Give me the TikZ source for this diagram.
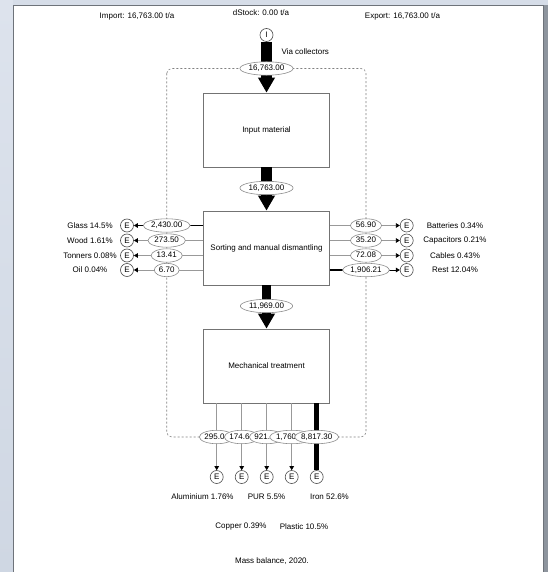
\documentclass[tikz,border=0pt]{standalone}
\usepackage{fontspec}
\setmainfont{Liberation Sans}
\usetikzlibrary{arrows.meta,shapes.geometric}
\definecolor{framea}{HTML}{DDE3ED}
\definecolor{frameb}{HTML}{B4BCC8}
\definecolor{framec}{HTML}{CFD7E3}
\definecolor{frametop}{HTML}{D6DDE8}
\definecolor{frameright}{HTML}{8E959E}
\definecolor{framedark}{HTML}{6E737A}
\begin{document}
\begin{tikzpicture}[x=1pt,y=-1pt,
  every node/.style={font=\fontsize{8}{9.6}\selectfont},
  procbox/.style={draw=black!55, line width=0.7pt, fill=white, minimum width=126pt, minimum height=74pt, inner sep=0pt},
  endc/.style={circle, draw=black!70, line width=0.6pt, fill=white, minimum size=13pt, inner sep=0pt},
  val/.style={ellipse, draw=black!45, line width=0.6pt, fill=white, inner xsep=1pt, inner ysep=1pt, text height=6pt, text depth=1.5pt},
  valnarrow/.style={val, inner xsep=0pt},
  bigflow/.style={line width=#1, -{Triangle[length=15pt,width=16pt]}},
  thinflow/.style={draw=black!40, line width=0.8pt, -{Triangle[length=4pt,width=4.5pt,color=black]}},
  boldflow/.style={draw=black, line width=1.8pt},
  boldtip/.style={draw=black, line width=1pt, -{Triangle[length=4pt,width=4.5pt]}},
  ironflow/.style={draw=black, line width=5pt},
  boundary/.style={draw=black!50, line width=0.6pt, dash pattern=on 2pt off 2pt, rounded corners=5pt}
]
\useasboundingbox (0,0) rectangle (548,572);
% window frame
\fill[white] (0,0) rectangle (548,572);
\shade[top color=framea, middle color=frameb, bottom color=framec] (0,0) rectangle (13,572);
\fill[frametop] (13,0) rectangle (548,5);
\fill[frameright] (543,5) rectangle (548,572);
\draw[framedark, line width=1pt] (13.5,572) -- (13.5,5.5) -- (543,5.5) -- (543,572);

% headings
\node (imp) at (137,16) {Import: 16,763.00 t/a};
\node (dst) at (261,13) {dStock: 0.00 t/a};
\node (exp) at (402.5,16) {Export: 16,763.00 t/a};
\node[anchor=west] (via) at (278,52) {Via collectors};

% system boundary
\draw[boundary] (166.7,68.5) rectangle (366,437);

% processes
\node[endc] (I) at (266.5,35) {I};
\node[procbox] (input) at (266.5,130) {Input material};
\node[procbox] (sort) at (266.5,248) {Sorting and manual dismantling};
\node[procbox] (mech) at (266.5,366) {Mechanical treatment};

% main flows
\draw[bigflow=10.5pt] (I) -- (input);
\draw[bigflow=10.5pt] (input) -- (sort);
\draw[bigflow=8.5pt] (sort) -- (mech);
\node[val] (v0) at (266.5,68.5) {16,763.00};
\node[val] (v1) at (266.5,188) {16,763.00};
\node[val] (v2) at (266.5,306) {11,969.00};

% left exports
\node[endc] (eg) at (127,225.5) {E};
\node[endc] (ew) at (127,240.5) {E};
\node[endc] (et) at (127,255.5) {E};
\node[endc] (eo) at (127,270) {E};
\node (lg) at (90,225.5) {Glass 14.5\%};
\node (lw) at (90,240.5) {Wood 1.61\%};
\node (lt) at (90,255.5) {Tonners 0.08\%};
\node (lo) at (90,270) {Oil 0.04\%};
\coordinate (cg) at (166.7,225.5);
\draw[boldflow] (sort.west |- eg) -- (cg);
\draw[boldtip] (cg) -- (eg);
\draw[thinflow] (sort.west |- ew) -- (ew);
\draw[thinflow] (sort.west |- et) -- (et);
\draw[thinflow] (sort.west |- eo) -- (eo);
\node[val] (vg) at (cg) {2,430.00};
\node[val] (vw) at (166.7,240.5) {273.50};
\node[val] (vt) at (166.7,255.5) {13.41};
\node[val] (vo) at (166.7,270) {6.70};

% right exports
\node[endc] (eb) at (406.7,225.5) {E};
\node[endc] (ec) at (406.7,240.5) {E};
\node[endc] (ek) at (406.7,255.5) {E};
\node[endc] (er) at (406.7,270) {E};
\node (lb) at (455,225.5) {Batteries 0.34\%};
\node (lc) at (455,240.5) {Capacitors 0.21\%};
\node (lk) at (455,255.5) {Cables 0.43\%};
\node (lr) at (455,270) {Rest 12.04\%};
\coordinate (cr) at (366,270);
\draw[thinflow] (sort.east |- eb) -- (eb);
\draw[thinflow] (sort.east |- ec) -- (ec);
\draw[thinflow] (sort.east |- ek) -- (ek);
\draw[boldflow] (sort.east |- er) -- (cr);
\draw[boldtip] (cr) -- (er);
\node[val] (vb) at (366,225.5) {56.90};
\node[val] (vc) at (366,240.5) {35.20};
\node[val] (vk) at (366,255.5) {72.08};
\node[val] (vr) at (cr) {1,906.21};

% bottom exports
\node[endc] (ea) at (216.7,477) {E};
\node[endc] (ecu) at (241.7,477) {E};
\node[endc] (ep) at (266.7,477) {E};
\node[endc] (epl) at (291.7,477) {E};
\node[endc] (ei) at (316.7,477) {E};
\draw[thinflow] (mech.south -| ea) -- (ea);
\draw[thinflow] (mech.south -| ecu) -- (ecu);
\draw[thinflow] (mech.south -| ep) -- (ep);
\draw[thinflow] (mech.south -| epl) -- (epl);
\draw[ironflow] (mech.south -| ei) -- (ei.north);
\node[valnarrow] (va) at (216.7,437) {\rlap{295.0}\phantom{295.00}};
\node[valnarrow] (vcu) at (241.7,437) {\rlap{174.6}\phantom{174.60}};
\node[valnarrow] (vp) at (266.7,437) {\rlap{921.}\phantom{921.97}};
\node[valnarrow] (vpl) at (291.7,437) {\rlap{1,760}\phantom{1,760.00}};
\node[valnarrow] (vi) at (316.7,437) {8,817.30};

\node (la) at (202.5,497) {Aluminium 1.76\%};
\node (lp) at (266.5,497) {PUR 5.5\%};
\node (li) at (329.5,497) {Iron 52.6\%};
\node (lcu) at (241,527) {Copper 0.39\%};
\node (lpl) at (304,527) {Plastic 10.5\%};
\node (cap) at (272,561) {Mass balance, 2020.};
\end{tikzpicture}
\end{document}
